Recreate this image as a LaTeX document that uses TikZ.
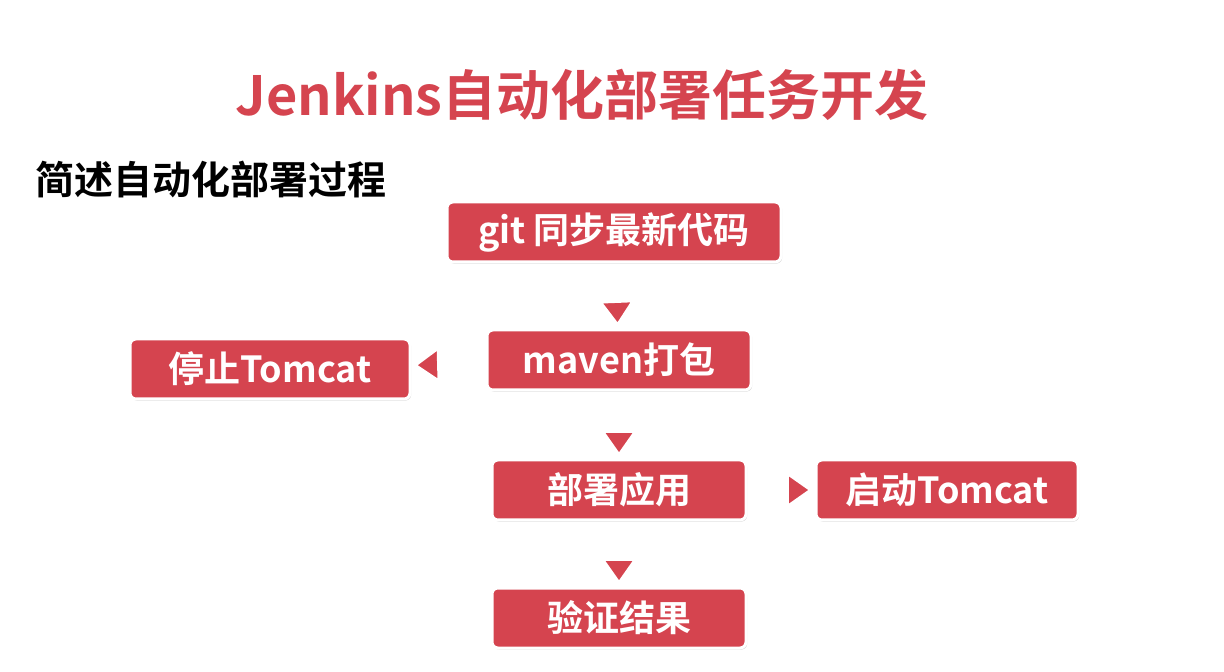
\documentclass[tikz,border=0pt]{standalone}
\usepackage{fontspec}
\setmainfont{Noto Sans CJK SC}[BoldFont={* Bold}]
\usetikzlibrary{positioning,shadows,arrows.meta}
\definecolor{boxred}{HTML}{D5444F}
\tikzset{
    task/.style={
           rectangle,
           rounded corners=3pt,
           fill=boxred, draw=white, line width=1.5pt,
           drop shadow={opacity=0.35,shadow xshift=0.6pt,shadow yshift=-0.8pt},
           minimum height=30pt,
           text=white, font=\bfseries\fontsize{18}{21}\selectfont,
           text centered,
           },
    flow/.style={
           draw=white, line width=1.2pt,
           -{Triangle[length=13pt,width=18pt,fill=boxred]},
           shorten >=1pt, shorten <=1pt,
           },
}
\begin{document}
\begin{tikzpicture}[x=0.5pt,y=-0.5pt]
 \useasboundingbox (0,0) rectangle (1224,672);
 \fill[white] (0,0) rectangle (1224,672);
 % titles
 \node[text=boxred,font=\bfseries\fontsize{27}{32}\selectfont] (title) at (582,95) {Jenkins自动化部署任务开发};
 \node[anchor=west,font=\bfseries\fontsize{19.5}{23}\selectfont] (sub) at (28,180) {简述自动化部署过程};
 % steps
 \node[task,minimum width=167pt] (git) at (614,232) {git 同步最新代码};
 \node[task,minimum width=132pt] (mvn) at (619,360) {maven打包};
 \node[task,minimum width=140pt] (stop) at (270,369) {停止Tomcat};
 \node[task,minimum width=127pt] (deploy) at (619,490) {部署应用};
 \node[task,minimum width=131pt] (start) at (947,490) {启动Tomcat};
 \node[task,minimum width=127pt] (check) at (619,618) {验证结果};
 % connectors
 \draw[flow] (git) -- (mvn);
 \draw[flow] (mvn) -- (stop);
 \draw[flow] (mvn) -- (deploy);
 \draw[flow] (deploy) -- (start);
 \draw[flow] (deploy) -- (check);
\end{tikzpicture}
\end{document}
